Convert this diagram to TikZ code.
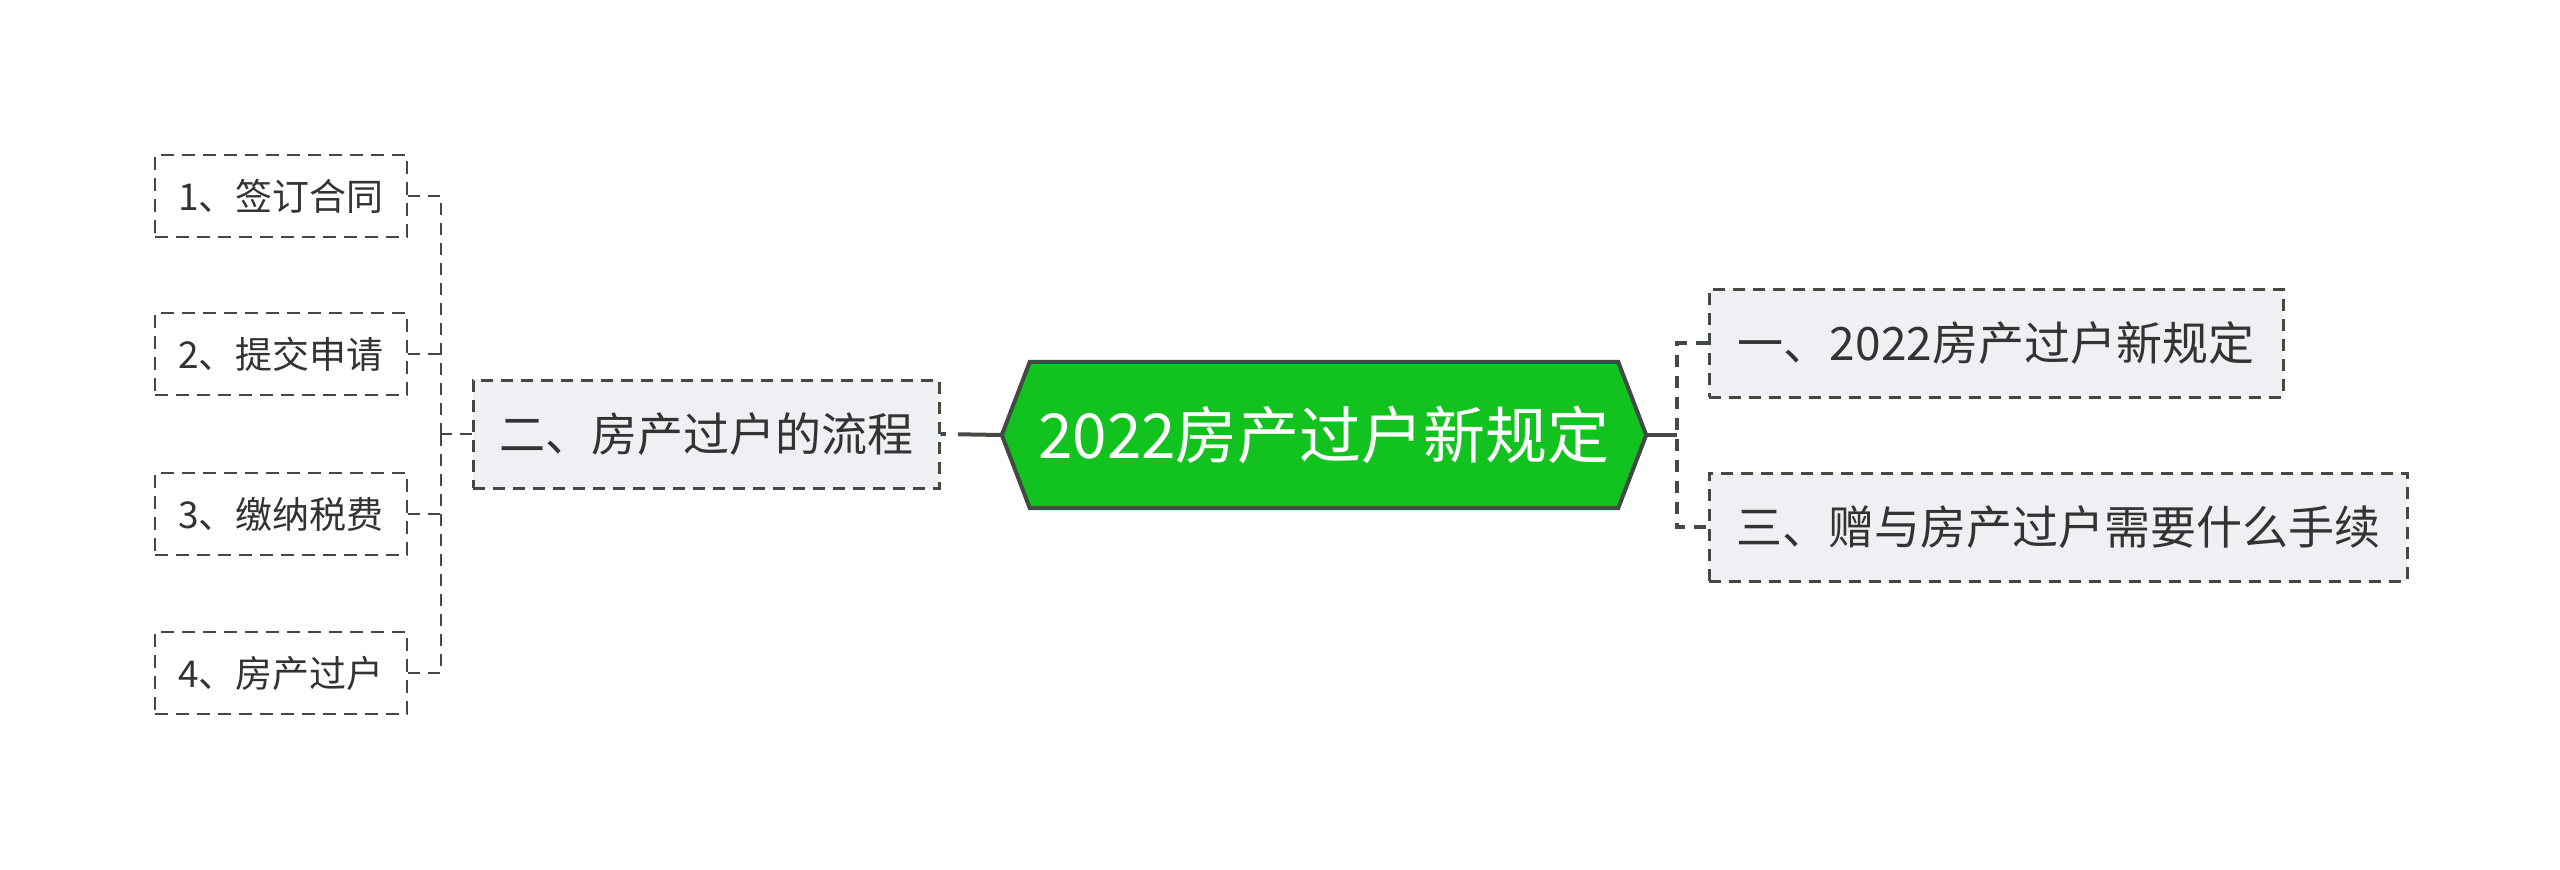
\documentclass[tikz,border=0pt]{standalone}
\usepackage{fontspec}
\newfontfamily\cjk{Noto Sans CJK SC}
\usetikzlibrary{backgrounds}
\definecolor{hexgreen}{HTML}{12C21E}
\definecolor{edgegray}{HTML}{434A43}
\definecolor{boxfill}{HTML}{EEF0F3}
\definecolor{txt}{HTML}{333333}
\begin{document}
\begin{tikzpicture}[x=1pt,y=-1pt,
  lvlone/.style={draw=edgegray, line width=3pt, dash pattern=on 12pt off 8pt, fill=boxfill,
    minimum height=108pt, inner sep=0pt, font=\cjk\fontsize{46}{56}\selectfont, text=txt},
  leaf/.style={draw=edgegray, line width=2.5pt, dash pattern=on 13pt off 8pt, fill=white,
    minimum width=252pt, minimum height=82pt, inner sep=0pt, font=\cjk\fontsize{37}{44}\selectfont, text=txt},
  rootbox/.style={minimum width=644pt, minimum height=146pt, inner sep=0pt,
    font=\cjk\fontsize{62}{74}\selectfont, text=white},
  hexshape/.style={draw=edgegray, line width=4pt, fill=hexgreen, line join=miter},
  solidconn/.style={draw=edgegray, line width=4pt},
  dashconn/.style={draw=edgegray, line width=4pt, dash pattern=on 12pt off 9pt},
  leafconn/.style={draw=edgegray, line width=2.5pt, dash pattern=on 12pt off 8pt}
]
\useasboundingbox (0,0) rectangle (2560,870);

% root
\node[rootbox] (root) at (1324,435) {2022房产过户新规定};
\begin{scope}[on background layer]
\fill[white] (0,0) rectangle (2560,870);
\draw[hexshape] (root.west) -- ([xshift=28pt]root.north west) -- ([xshift=-28pt]root.north east)
  -- (root.east) -- ([xshift=-28pt]root.south east) -- ([xshift=28pt]root.south west) -- cycle;
\end{scope}

% level one
\node[lvlone, minimum width=466pt] (l) at (706,434) {二、房产过户的流程};
\node[lvlone, minimum width=574pt] (r1) at (1996,343) {一、2022房产过户新规定};
\node[lvlone, minimum width=698pt] (r2) at (2058,527) {三、赠与房产过户需要什么手续};

% leaves
\node[leaf] (a1) at (281,196) {1、签订合同};
\node[leaf] (a2) at (281,354) {2、提交申请};
\node[leaf] (a3) at (281,514) {3、缴纳税费};
\node[leaf] (a4) at (281,673) {4、房产过户};

% connectors right
\coordinate (rtrunk) at (1677,435);
\draw[solidconn] (root.east) -- (rtrunk);
\draw[dashconn] (r1.west) -| (rtrunk) |- (r2.west);

% connectors left
\draw[solidconn, dash pattern=on 44pt off 12pt on 20pt] (root.west) -- (l.east);
\coordinate (ltrunk) at (441,434);
\draw[leafconn] (l.west) -- (ltrunk);
\draw[leafconn] (a1.east) -| (ltrunk);
\draw[leafconn] (a4.east) -| (ltrunk);
\draw[leafconn] (a2.east) -- (a2.east -| ltrunk);
\draw[leafconn] (a3.east) -- (a3.east -| ltrunk);
\end{tikzpicture}
\end{document}
